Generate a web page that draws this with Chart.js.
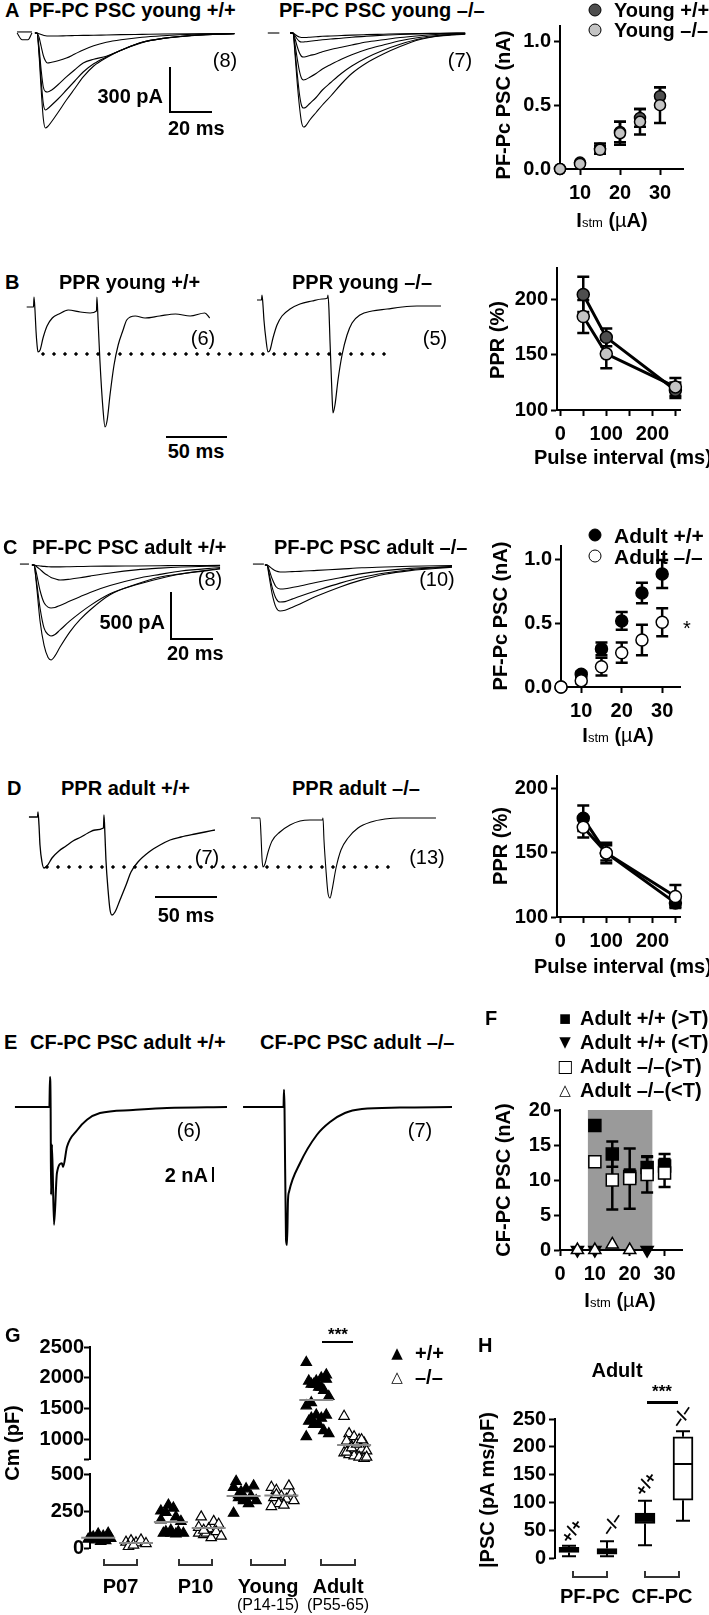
<!DOCTYPE html>
<html>
<head>
<meta charset="utf-8">
<script src="https://cdn.jsdelivr.net/npm/chart.js@4.4.1/dist/chart.umd.min.js"></script>
<style>
html, body { margin: 0; padding: 0; background: #fff; }
#fig { position: relative; width: 709px; height: 1615px; overflow: hidden; background: #fff;
       font-family: "Liberation Sans", Arial, Helvetica, sans-serif; font-weight: bold; font-size: 20px; color: #000; }
#fig canvas { position: absolute; }
.t { position: absolute; white-space: nowrap; line-height: 1; }
.ln { position: absolute; background: #000; }
.br { position: absolute; box-sizing: border-box; border: 2px solid #333; border-top: none; height: 7px; }
.dots { position: absolute; height: 4px;
        background: radial-gradient(circle at 2px 2px, #000 1.4px, transparent 1.9px) 0 0 / 11px 4px repeat-x; }
.gl { font-family: "DejaVu Sans", sans-serif; font-weight: normal; }
.circ { position: absolute; width: 11px; height: 11px; border-radius: 50%; border: 1.5px solid #000; transform: translate(-50%, -50%); }
.sub { font-weight: normal; font-size: 13px; }
</style>
</head>
<body>
<div id="fig"></div>
<script>
// ============================================
// DATOS: TRAZOS (ms, pA / nA)
// ============================================

// A  PF-PC PSC young
const tYoungWT = [-1, 0, 1, 2, 3, 4, 5, 7, 10, 14, 18, 22, 27, 33, 40, 50, 60, 75, 94];
const youngWT1 = [0, 0, -150, -380, -570, -633, -625, -590, -530, -447, -370, -293, -220, -165, -115, -62, -36, -15, -5];
const youngWT2 = [0, 0, -130, -320, -470, -513, -505, -480, -440, -380, -320, -260, -205, -160, -115, -62, -36, -15, -5];
const youngWT3 = [0, 0, -100, -250, -360, -390, -393, -380, -345, -293, -245, -200, -175, -155, -115, -64, -37, -16, -5];
const youngWT4 = [0, 0, -30, -90, -150, -185, -200, -195, -185, -167, -140, -113, -85, -62, -45, -28, -18, -8, -3];
const youngWT5 = [0, 0, -5, -10, -15, -18, -20, -20, -20, -18, -17, -16, -15, -13, -11, -9, -7, -5, -3];

const tYoungKO = [-1.4, 0, 1, 2, 3, 4, 5, 6, 8, 11, 14, 18, 23, 28, 35, 43, 51, 60, 70, 82];
const youngKO1 = [0, 0, -150, -330, -480, -590, -627, -620, -580, -530, -480, -420, -340, -270, -200, -140, -90, -45, -20, -8];
const youngKO2 = [0, 0, -120, -270, -400, -480, -500, -497, -470, -430, -380, -330, -270, -220, -165, -115, -75, -40, -18, -6];
const youngKO3 = [0, 0, -80, -170, -250, -300, -313, -310, -295, -270, -240, -210, -175, -145, -110, -80, -52, -30, -15, -5];
const youngKO4 = [0, 0, -40, -90, -130, -155, -160, -158, -150, -140, -125, -110, -95, -80, -60, -45, -30, -18, -8, -3];
const youngKO5 = [0, 0, -20, -40, -55, -60, -60, -58, -55, -50, -45, -40, -35, -28, -22, -15, -10, -6, -3, 0];
const youngKO6 = [0, 0, -10, -20, -27, -30, -30, -30, -28, -25, -22, -20, -17, -14, -11, -8, -5, -3, -2, 0];

// B  PPR young
const tPprYoungWT = [-6, -0.4, 0, 0.8, 1.6, 2.5, 3.3, 5, 7.4, 10.7, 15, 20.5, 28, 38, 46, 51.2, 51.6, 52.5, 54, 56.6, 58.2, 60, 62.3, 65.6, 69, 73, 76, 83, 91, 103, 116, 128, 140, 144];
const pprYoungWTtrace = [0, 0, 100, -30, -230, -380, -450, -430, -310, -190, -110, -70, -30, -50, -60, -40, 100, -130, -530, -1030, -1200, -1130, -880, -580, -380, -230, -130, -90, -110, -90, -70, -90, -60, -110];
const tPprYoungKO = [-4.1, -0.4, 0, 0.8, 1.6, 3.3, 4.9, 6.6, 9, 12.3, 16.4, 23, 31.1, 41, 49.2, 53.7, 54.1, 54.9, 55.7, 57.4, 58.2, 59.8, 62.3, 65.6, 69.7, 73.8, 80.3, 90.2, 102.5, 114.8, 127, 139.3, 146.7];
const pprYoungKOtrace = [0, 0, 50, -50, -200, -400, -520, -500, -380, -250, -160, -90, -40, -10, 10, 20, 50, -100, -400, -950, -1130, -1050, -800, -550, -350, -230, -150, -110, -90, -70, -60, -60, -60];

// C  PF-PC PSC adult
const tAdultWT = [-1, 0, 1, 2.9, 4.8, 6.7, 8.1, 10, 12.4, 17.1, 21.9, 26.7, 36.2, 48.6, 60, 70, 88.6];
const adultWT1 = [0, 0, -171, -600, -856, -985, -1010, -967, -873, -711, -582, -479, -317, -205, -128, -94, -43];
const adultWT2 = [0, 0, -144, -461, -672, -739, -755, -739, -691, -595, -509, -432, -307, -211, -144, -96, -38];
const adultWT3 = [0, 0, -73, -274, -402, -448, -457, -452, -430, -384, -338, -292, -219, -146, -100, -64, -27];
const adultWT4 = [0, 0, -14, -47, -85, -113, -132, -146, -160, -151, -136, -118, -85, -52, -33, -21, -9];
const adultWT5 = [0, 0, -5, -10, -15, -18, -20, -20, -20, -18, -16, -14, -12, -10, -8, -6, -4];

const tAdultKO = [-1, 0, 0.95, 2.4, 4.3, 6.2, 8.6, 11.9, 15.7, 23.8, 34.8, 45.2, 56.2, 68.1, 88.1];
const adultKO1 = [0, 0, -113, -301, -451, -489, -481, -451, -414, -331, -233, -158, -98, -60, -23];
const adultKO2 = [0, 0, -85, -232, -356, -394, -390, -363, -332, -271, -193, -131, -85, -50, -19];
const adultKO3 = [0, 0, -48, -143, -231, -255, -253, -239, -223, -183, -135, -92, -60, -36, -14];
const adultKO4 = [0, 0, -13, -39, -65, -74, -74, -71, -68, -57, -44, -30, -22, -13, -5];

// D  PPR adult
const tPprAdultWT = [-7.3, -0.4, 0, 0.8, 1.6, 3.2, 4.8, 7.3, 11.3, 16.9, 22.6, 28.2, 34.7, 40.3, 46, 52.8, 53.2, 54, 54.8, 56.5, 58.1, 59.7, 62.1, 66.1, 71, 75, 80.6, 89.5, 98.4, 106.5, 115.3, 126.6, 134.7, 142.7];
const pprAdultWTtrace = [0, 0, 50, -80, -280, -450, -510, -490, -410, -340, -290, -240, -200, -160, -130, -110, 20, -180, -430, -730, -930, -980, -950, -830, -680, -550, -450, -350, -280, -230, -200, -170, -150, -130];
const tPprAdultKO = [-7.3, -0.4, 0, 0.8, 1.6, 2.4, 4, 6.5, 9.7, 16.1, 24.2, 32.3, 40.3, 50.4, 50.8, 51.6, 53.2, 54.8, 56.5, 58.1, 61.3, 65.3, 71, 79, 89.5, 100.8, 112.9, 141.9];
const pprAdultKOtrace = [0, 0, 0, -170, -400, -490, -460, -340, -230, -140, -70, -30, -20, -20, 0, -220, -520, -750, -800, -720, -500, -320, -200, -100, -40, -10, 0, 0];

// E  CF-PC PSC adult (nA)
const tCfWT = [-16.7, -0.3, 0, 0.3, 0.5, 0.95, 1.9, 3.3, 5.7, 6.2, 8.1, 12.9, 17.6, 23.8, 39.5, 55.7, 84.3];
const cfWTtrace = [0, 0, 4, 0, -11.7, -5, -15.7, -8.8, -7.5, -8, -5.3, -3.1, -1.7, -0.8, -0.4, -0.13, 0];
const tCfKO = [-19.5, -0.24, 0, 0.24, 0.95, 1.43, 1.9, 2.4, 7.6, 15.7, 21.9, 29, 37.1, 55.2, 80];
const cfKOtrace = [0, 0, 2.3, 0, -17.7, -18.4, -12.4, -11.3, -7.5, -3.7, -2.0, -0.8, -0.27, -0.07, 0];

// ============================================
// DATOS: GRÁFICOS
// ============================================

const istm = [5, 10, 15, 20, 25, 30];
const pscYoungWT = [0, 0.05, 0.16, 0.29, 0.40, 0.57];
const pscYoungWTerr = [0, 0, 0.04, 0.08, 0.07, 0.07];
const pscYoungKO = [0, 0.04, 0.15, 0.28, 0.37, 0.50];
const pscYoungKOerr = [0, 0, 0.03, 0.09, 0.10, 0.14];

const pulseInterval = [50, 100, 250];
const pprYoungWT = [205, 166, 118];
const pprYoungWTerr = [16, 8, 7];
const pprYoungKO = [185, 151, 121];
const pprYoungKOerr = [15, 13, 8];

const pscAdultWT = [0, 0.10, 0.30, 0.52, 0.74, 0.89];
const pscAdultWTerr = [0, 0.02, 0.05, 0.07, 0.08, 0.11];
const pscAdultKO = [0, 0.05, 0.16, 0.27, 0.37, 0.51];
const pscAdultKOerr = [0, 0.02, 0.07, 0.08, 0.12, 0.11];

const pprAdultWT = [177, 150, 111];
const pprAdultWTerr = [10, 8, 3];
const pprAdultKO = [170, 150, 116];
const pprAdultKOerr = [8, 6, 9];

const cfIstm = [10, 15, 20, 25, 30];
const cfAboveWT = [17.8, 13.7, 10.5, 11.8, 12.0];
const cfAboveWTerr = [0, 1.8, 1.0, 1.5, 1.7];
const cfAboveKO = [12.6, 10.0, 10.2, 10.8, 11.0];
const cfAboveKOerr = [0, 4.2, 4.3, 2.6, 2.0];
const cfBelowWTx = [5, 10, 25];
const cfBelowWT = [0, 0, 0];
const cfBelowKOx = [5, 10, 15, 20];
const cfBelowKO = [0, 0, 0.8, 0];
const cfShadeRange = [8, 26.5];

const cmGroups = ['P07', 'P10', 'Young', 'Adult'];
const cmWT = [
    [60, 75, 95, 80, 100, 70, 55, 45, 50, 65],
    [250, 110, 100, 210, 180, 100, 290, 270, 110, 100, 190, 240, 120, 95],
    [410, 360, 330, 300, 420, 450, 380, 400, 350, 320, 235, 340, 320],
    [2250, 1900, 1950, 2000, 2050, 1950, 1900, 1850, 1800, 1700, 1550, 1600, 1400, 1350, 1400, 1300, 1250, 1250, 1150, 1100, 1050, 1350, 1900, 1850, 1980]
];
const cmKO = [
    [40, 50, 35, 55, 30, 10, 20],
    [100, 90, 130, 180, 160, 210, 100, 70, 110, 80, 140, 120],
    [410, 390, 350, 330, 370, 340, 300, 290, 420, 320, 280, 360],
    [1380, 1100, 1050, 1000, 950, 980, 900, 880, 850, 820, 790, 760, 740, 720, 700, 800, 870, 930, 1000, 720]
];
const cmWTmean = [70, 176, 351, 1645];
const cmKOmean = [33, 135, 355, 915];

const boxLabels = ['+/+', '–/–', '+/+', '–/–'];
const boxMin = [3, 3, 23, 67];
const boxQ1 = [10, 7, 62, 104];
const boxMed = [14, 11, 71, 169];
const boxQ3 = [19, 17, 81, 218];
const boxMax = [22, 30, 103, 228];

// ============================================
// CONFIGURACIÓN
// ============================================

const FONT = "'Liberation Sans', Arial, Helvetica, sans-serif";
Chart.defaults.font.family = FONT;
Chart.defaults.font.size = 20;
Chart.defaults.font.weight = 'bold';
Chart.defaults.color = '#000';

const fig = document.getElementById('fig');
const YW = 70, XH = 62, PAD = 14;

function mkCanvas(l, t, w, h) {
    const c = document.createElement('canvas');
    c.width = w; c.height = h;
    c.style.left = l + 'px'; c.style.top = t + 'px';
    c.style.width = w + 'px'; c.style.height = h + 'px';
    fig.appendChild(c);
    return c;
}

function txt(x, y, html, o = {}) {
    const d = document.createElement('div');
    d.className = 't';
    d.innerHTML = html;
    d.style.left = x + 'px';
    d.style.top = y + 'px';
    const ax = o.a === 'r' ? '-100%' : (o.a === 'c' ? '-50%' : '0');
    d.style.transform = `translate(${ax}, -50%)` + (o.rot ? ` rotate(${o.rot}deg)` : '');
    if (o.n) d.style.fontWeight = 'normal';
    if (o.s) d.style.fontSize = o.s + 'px';
    fig.appendChild(d);
}

function line(x, y, w, h) {
    const d = document.createElement('div');
    d.className = 'ln';
    Object.assign(d.style, { left: x + 'px', top: y + 'px', width: w + 'px', height: h + 'px' });
    fig.appendChild(d);
}

function bracket(x1, x2, yb) {
    const d = document.createElement('div');
    d.className = 'br';
    Object.assign(d.style, { left: x1 + 'px', top: (yb - 7) + 'px', width: (x2 - x1) + 'px' });
    fig.appendChild(d);
}

function dots(x1, x2, y) {
    const d = document.createElement('div');
    d.className = 'dots';
    Object.assign(d.style, { left: x1 + 'px', top: (y - 2) + 'px', width: (x2 - x1) + 'px' });
    fig.appendChild(d);
}

function circle(x, y, fill) {
    const d = document.createElement('div');
    d.className = 'circ';
    Object.assign(d.style, { left: x + 'px', top: y + 'px', background: fill });
    fig.appendChild(d);
}

const noUi = {
    responsive: false, animation: false, events: [],
    plugins: { legend: { display: false }, tooltip: { enabled: false }, title: { display: false } }
};

// ============================================
// TRAZOS
// ============================================

function traceChart(box, map, sets, lw) {
    const c = mkCanvas(box.l, box.t, box.w, box.h);
    new Chart(c, {
        type: 'line',
        data: {
            datasets: sets.map(s => ({
                data: s[0].map((t, i) => ({ x: t, y: s[1][i] })),
                borderColor: '#000', borderWidth: lw, pointRadius: 0,
                cubicInterpolationMode: 'monotone', fill: false, clip: false
            }))
        },
        options: {
            ...noUi,
            layout: { padding: 0 },
            scales: {
                x: { type: 'linear', display: false, min: (box.l - map.x0) / map.kx, max: (box.l + box.w - map.x0) / map.kx },
                y: { type: 'linear', display: false, min: (map.y0 - box.t - box.h) / map.ky, max: (map.y0 - box.t) / map.ky }
            }
        }
    });
}

traceChart({ l: 14, t: 22, w: 228, h: 115 }, { x0: 37, y0: 33, kx: 2.1, ky: 0.15 }, [
    [[-9.5, -2.4], [7, 7]], [[-9.5, -7.1, -4.3, -2.4], [0, -45, -45, 0]],
    [tYoungWT, youngWT5], [tYoungWT, youngWT4], [tYoungWT, youngWT3], [tYoungWT, youngWT2], [tYoungWT, youngWT1]
], 1.1);
traceChart({ l: 262, t: 22, w: 215, h: 115 }, { x0: 293, y0: 33, kx: 2.1, ky: 0.15 }, [
    [[-12, -6.5], [0, 0]],
    [tYoungKO, youngKO6], [tYoungKO, youngKO5], [tYoungKO, youngKO4], [tYoungKO, youngKO3], [tYoungKO, youngKO2], [tYoungKO, youngKO1]
], 1.1);
traceChart({ l: 20, t: 285, w: 200, h: 150 }, { x0: 34, y0: 307, kx: 1.22, ky: 0.1 }, [[tPprYoungWT, pprYoungWTtrace]], 1.2);
traceChart({ l: 250, t: 285, w: 200, h: 150 }, { x0: 262, y0: 300, kx: 1.22, ky: 0.1 }, [[tPprYoungKO, pprYoungKOtrace]], 1.2);
traceChart({ l: 14, t: 552, w: 215, h: 120 }, { x0: 34, y0: 565, kx: 2.1, ky: 0.094 }, [
    [[-6.7, -2.4], [10, 10]],
    [tAdultWT, adultWT5], [tAdultWT, adultWT4], [tAdultWT, adultWT3], [tAdultWT, adultWT2], [tAdultWT, adultWT1]
], 1.1);
traceChart({ l: 245, t: 552, w: 215, h: 75 }, { x0: 267, y0: 565, kx: 2.1, ky: 0.094 }, [
    [[-6.7, -1.5], [10, 10]],
    [tAdultKO, adultKO4], [tAdultKO, adultKO3], [tAdultKO, adultKO2], [tAdultKO, adultKO1]
], 1.1);
traceChart({ l: 20, t: 800, w: 205, h: 125 }, { x0: 38, y0: 817, kx: 1.24, ky: 0.1 }, [[tPprAdultWT, pprAdultWTtrace]], 1.3);
traceChart({ l: 245, t: 800, w: 200, h: 110 }, { x0: 260, y0: 818, kx: 1.24, ky: 0.1 }, [[tPprAdultKO, pprAdultKOtrace]], 1.1);
traceChart({ l: 10, t: 1065, w: 225, h: 170 }, { x0: 50, y0: 1107, kx: 2.1, ky: 7.5 }, [[tCfWT, cfWTtrace]], 2);
traceChart({ l: 238, t: 1065, w: 222, h: 190 }, { x0: 284, y0: 1107, kx: 2.1, ky: 7.5 }, [[tCfKO, cfKOtrace]], 2);

// ============================================
// PLUGINS
// ============================================

const errorBars = {
    id: 'errorBars',
    beforeDatasetsDraw(chart) {
        const ctx = chart.ctx, ys = chart.scales.y;
        chart.data.datasets.forEach((ds, i) => {
            if (!ds.errors) return;
            const meta = chart.getDatasetMeta(i);
            ctx.save();
            ctx.strokeStyle = '#000';
            ctx.lineWidth = 2.5;
            meta.data.forEach((pt, j) => {
                const e = ds.errors[j];
                if (!e) return;
                const v = ds.data[j].y;
                const y1 = ys.getPixelForValue(v + e), y2 = ys.getPixelForValue(v - e);
                ctx.beginPath();
                ctx.moveTo(pt.x, y1); ctx.lineTo(pt.x, y2);
                ctx.moveTo(pt.x - 6, y1); ctx.lineTo(pt.x + 6, y1);
                ctx.moveTo(pt.x - 6, y2); ctx.lineTo(pt.x + 6, y2);
                ctx.stroke();
            });
            ctx.restore();
        });
    }
};

const shade = {
    id: 'shade',
    beforeDraw(chart) {
        const { ctx, chartArea: a, scales: { x } } = chart;
        const x1 = x.getPixelForValue(cfShadeRange[0]), x2 = x.getPixelForValue(cfShadeRange[1]);
        ctx.save();
        ctx.fillStyle = '#9a9a9a';
        ctx.fillRect(x1, a.top, x2 - x1, a.bottom - a.top);
        ctx.restore();
    }
};

function axis(pos, min, max, ticks, fmt) {
    return {
        type: 'linear', position: pos, min, max, offset: false,
        afterBuildTicks: s => { s.ticks = ticks.map(v => ({ value: v })); },
        afterFit: s => { if (pos === 'left') s.width = YW; else s.height = XH; },
        border: { display: true, color: '#000', width: 2 },
        grid: { drawOnChartArea: false, drawTicks: true, tickLength: 6, tickWidth: 2, tickColor: '#000', color: '#000' },
        ticks: { autoSkip: false, maxRotation: 0, minRotation: 0, padding: pos === 'left' ? 3 : 6, color: '#000',
                 font: { size: 20, weight: 'bold' }, callback: v => fmt(v) }
    };
}

function frame(area, hasX) {
    const w = area.r - area.l + YW + PAD;
    const h = area.b - area.t + PAD + (hasX ? XH : PAD);
    return mkCanvas(area.l - YW, area.t - PAD, w, h);
}

function layoutPad(hasX) {
    return { padding: { left: 0, top: PAD, right: PAD, bottom: hasX ? 0 : PAD } };
}

function pts(xs, ys) { return xs.map((x, i) => ({ x, y: ys[i] })); }

function markers(xs, ys, o) {
    return {
        data: pts(xs, ys), showLine: !!o.line, borderColor: '#000', borderWidth: o.line ? 3 : 0,
        pointStyle: o.style || 'circle', pointRadius: o.r || 5.5, pointRotation: o.rot || 0,
        pointBackgroundColor: o.fill, pointBorderColor: '#000', pointBorderWidth: 1.5,
        errors: o.err, order: o.order, clip: false
    };
}

const fmt1 = v => v.toFixed(1);
const fmtInt = v => String(v);
const fmtHundreds = v => (v % 100 === 0 ? String(v) : '');

function scatterPanel(area, xr, yr, datasets, extra = []) {
    new Chart(frame(area, true), {
        type: 'scatter',
        data: { datasets },
        options: {
            ...noUi,
            layout: layoutPad(true),
            scales: {
                x: axis('bottom', xr[0], xr[1], xr[2], xr[3]),
                y: axis('left', yr[0], yr[1], yr[2], yr[3])
            }
        },
        plugins: [...extra, errorBars]
    });
}

// A
scatterPanel({ l: 560, r: 683, t: 25, b: 169 },
    [5, 35.75, [10, 20, 30], fmtInt], [0, 1.12, [0, 0.5, 1.0], fmt1], [
        markers(istm, pscYoungKO, { fill: '#c4c4c4', err: pscYoungKOerr, order: 1 }),
        markers(istm, pscYoungWT, { fill: '#4e4e4e', err: pscYoungWTerr, order: 2 })
    ]);

// B
scatterPanel({ l: 557, r: 680, t: 267, b: 410 },
    [-7, 260, [0, 50, 100, 150, 200, 250], fmtHundreds], [100, 229, [100, 150, 200], fmtInt], [
        markers(pulseInterval, pprYoungKO, { fill: '#c4c4c4', err: pprYoungKOerr, order: 1, line: true, r: 6 }),
        markers(pulseInterval, pprYoungWT, { fill: '#4e4e4e', err: pprYoungWTerr, order: 2, line: true, r: 6 })
    ]);

// C
scatterPanel({ l: 561, r: 680, t: 545, b: 687 },
    [5, 34.4, [10, 20, 30], fmtInt], [0, 1.11, [0, 0.5, 1.0], fmt1], [
        markers(istm, pscAdultKO, { fill: '#fff', err: pscAdultKOerr, order: 1, r: 6 }),
        markers(istm, pscAdultWT, { fill: '#000', err: pscAdultWTerr, order: 2, r: 6 })
    ]);

// D
scatterPanel({ l: 557, r: 680, t: 775, b: 917 },
    [-7, 260, [0, 50, 100, 150, 200, 250], fmtHundreds], [100, 210, [100, 150, 200], fmtInt], [
        markers(pulseInterval, pprAdultKO, { fill: '#fff', err: pprAdultKOerr, order: 1, line: true, r: 6 }),
        markers(pulseInterval, pprAdultWT, { fill: '#000', err: pprAdultWTerr, order: 2, line: true, r: 6 })
    ]);

// F
scatterPanel({ l: 560, r: 682, t: 1109, b: 1250 },
    [0, 35, [0, 10, 20, 30], fmtInt], [0, 20, [0, 5, 10, 15, 20], fmtInt], [
        markers(cfIstm, cfAboveKO, { fill: '#fff', err: cfAboveKOerr, order: 1, style: 'rect', r: 8.5 }),
        markers(cfIstm, cfAboveWT, { fill: '#000', err: cfAboveWTerr, order: 2, style: 'rect', r: 8.5 }),
        markers(cfBelowKOx, cfBelowKO, { fill: '#fff', order: 3, style: 'triangle', r: 7 }),
        markers(cfBelowWTx, cfBelowWT, { fill: '#000', order: 4, style: 'triangle', r: 7, rot: 180 })
    ], [shade]);

// G  (eje cortado: dos gráficos)
const G_SIDE = [-0.3, 0.22];
const G_PX = 72.7;
function cmPoints(groups, side, keep) {
    const out = [];
    groups.forEach((vals, g) => {
        vals.forEach((v, i) => {
            if (!keep(v)) return;
            const jitter = (((i % 5) - 2) * 5 + (Math.floor(i / 5) % 2 ? 2.5 : 0)) / G_PX;
            out.push({ x: g + 1 + side + jitter, y: v });
        });
    });
    return out;
}

const meanLines = {
    id: 'meanLines',
    afterDatasetsDraw(chart) {
        const { ctx, scales: { x, y } } = chart;
        ctx.save();
        ctx.strokeStyle = '#8a8a8a';
        ctx.lineWidth = 2;
        [[cmWTmean, G_SIDE[0]], [cmKOmean, G_SIDE[1]]].forEach(([means, side]) => {
            means.forEach((m, g) => {
                if (m < y.min || m > y.max) return;
                const cx = x.getPixelForValue(g + 1 + side), py = y.getPixelForValue(m);
                ctx.beginPath(); ctx.moveTo(cx - 17, py); ctx.lineTo(cx + 17, py); ctx.stroke();
            });
        });
        ctx.restore();
    }
};

function cmPanel(area, ymin, ymax, ticks) {
    const keep = v => v >= ymin - 20 && v <= ymax + 20;
    const yAxis = axis('left', ymin, ymax, ticks, v => (v === 690 ? '' : String(v)));
    yAxis.ticks.padding = 0;
    new Chart(frame(area, false), {
        type: 'scatter',
        data: {
            datasets: [
                { data: cmPoints(cmKO, G_SIDE[1], keep), pointStyle: 'triangle', pointRadius: 6, pointBackgroundColor: '#fff',
                  pointBorderColor: '#000', pointBorderWidth: 1.2, clip: false, order: 1 },
                { data: cmPoints(cmWT, G_SIDE[0], keep), pointStyle: 'triangle', pointRadius: 6, pointBackgroundColor: '#000',
                  pointBorderColor: '#000', pointBorderWidth: 1.2, clip: false, order: 2 }
            ]
        },
        options: {
            ...noUi,
            layout: layoutPad(false),
            scales: {
                x: { type: 'linear', display: false, offset: false, min: 1 - (120 - area.l) / G_PX, max: 1 + (area.r - 120) / G_PX },
                y: yAxis
            }
        },
        plugins: [meanLines]
    });
}
cmPanel({ l: 90, r: 380, t: 1347, b: 1459 }, 690, 2500, [690, 1000, 1500, 2000, 2500]);
cmPanel({ l: 90, r: 380, t: 1474, b: 1548 }, 0, 500, [0, 250, 500]);

// H  (cajas)
const whiskers = {
    id: 'whiskers',
    afterDatasetsDraw(chart) {
        const { ctx, scales: { x, y } } = chart;
        ctx.save();
        ctx.strokeStyle = '#000';
        ctx.lineWidth = 2;
        boxMin.forEach((mn, i) => {
            const cx = x.getPixelForValue(i + 1);
            const p = v => y.getPixelForValue(v);
            ctx.beginPath();
            ctx.moveTo(cx, p(mn)); ctx.lineTo(cx, p(boxQ1[i]));
            ctx.moveTo(cx, p(boxQ3[i])); ctx.lineTo(cx, p(boxMax[i]));
            ctx.moveTo(cx - 7, p(mn)); ctx.lineTo(cx + 7, p(mn));
            ctx.moveTo(cx - 7, p(boxMax[i])); ctx.lineTo(cx + 7, p(boxMax[i]));
            ctx.moveTo(cx - 10, p(boxMed[i])); ctx.lineTo(cx + 10, p(boxMed[i]));
            ctx.stroke();
        });
        ctx.restore();
    }
};

(function () {
    const area = { l: 555, r: 700, t: 1418, b: 1559 };
    new Chart(frame(area, false), {
        type: 'bar',
        data: {
            datasets: [{
                data: boxQ1.map((q, i) => ({ x: i + 1, y: [q, boxQ3[i]] })),
                backgroundColor: ['#000', '#000', '#000', '#fff'],
                borderColor: '#000', borderWidth: 2, borderSkipped: false, barThickness: 20
            }]
        },
        options: {
            ...noUi,
            layout: layoutPad(false),
            scales: {
                x: { type: 'linear', display: false, offset: false, min: 1 - 14 / 38, max: 1 + (area.r - 569) / 38 },
                y: axis('left', 0, 250, [0, 50, 100, 150, 200, 250], fmtInt)
            }
        },
        plugins: [whiskers]
    });
})();

// ============================================
// TEXTOS Y ANOTACIONES
// ============================================

// A
txt(5, 10, 'A');
txt(29, 10, 'PF-PC PSC young +/+');
txt(279, 10, 'PF-PC PSC young –/–');
txt(225, 60, '(8)', { a: 'c', n: 1 });
txt(460, 60, '(7)', { a: 'c', n: 1 });
line(169, 67, 2, 46); line(169, 111, 43, 2);
txt(163, 96, '300 pA', { a: 'r' });
txt(168, 128, '20 ms');
circle(595, 10, '#4e4e4e'); txt(614, 10, 'Young +/+');
circle(595, 30, '#c4c4c4'); txt(614, 30, 'Young –/–');
txt(503, 105, 'PF-Pc PSC (nA)', { a: 'c', rot: -90 });
const istmLabel = 'I<span class="sub">stm</span> (<span style="font-weight:normal">µ</span>A)';
txt(612, 220, istmLabel, { a: 'c' });

// B
txt(5, 282, 'B');
txt(59, 282, 'PPR young +/+');
txt(292, 282, 'PPR young –/–');
dots(41, 391, 354);
txt(203, 338, '(6)', { a: 'c', n: 1 });
txt(435, 338, '(5)', { a: 'c', n: 1 });
line(166, 436, 61, 2);
txt(196, 451, '50 ms', { a: 'c' });
txt(497, 340, 'PPR (%)', { a: 'c', rot: -90 });
txt(534, 457, 'Pulse interval (ms)');

// C
txt(3, 547, 'C');
txt(32, 547, 'PF-PC PSC adult +/+');
txt(274, 547, 'PF-PC PSC adult –/–');
txt(210, 579, '(8)', { a: 'c', n: 1 });
txt(437, 579, '(10)', { a: 'c', n: 1 });
line(170, 592, 2, 48); line(170, 638, 43, 2);
txt(165, 622, '500 pA', { a: 'r' });
txt(167, 653, '20 ms');
circle(595, 535, '#000'); txt(614, 535, 'Adult +/+', { s: 21 });
circle(595, 556, '#fff'); txt(614, 556, 'Adult –/–', { s: 21 });
txt(500, 616, 'PF-Pc PSC (nA)', { a: 'c', rot: -90 });
txt(618, 735, istmLabel, { a: 'c' });
txt(687, 628, '*', { a: 'c', n: 1 });

// D
txt(7, 788, 'D');
txt(61, 788, 'PPR adult +/+');
txt(292, 788, 'PPR adult –/–');
dots(45, 391, 867);
txt(207, 857, '(7)', { a: 'c', n: 1 });
txt(427, 857, '(13)', { a: 'c', n: 1 });
line(155, 896, 62, 2);
txt(186, 915, '50 ms', { a: 'c' });
txt(500, 846, 'PPR (%)', { a: 'c', rot: -90 });
txt(534, 966, 'Pulse interval (ms)');

// E
txt(4, 1042, 'E');
txt(30, 1042, 'CF-PC PSC adult +/+');
txt(260, 1042, 'CF-PC PSC adult –/–');
txt(189, 1130, '(6)', { a: 'c', n: 1 });
txt(420, 1130, '(7)', { a: 'c', n: 1 });
txt(208, 1175, '2 nA', { a: 'r' });
line(212, 1167, 2, 15);

// F
txt(485, 1018, 'F');
txt(565, 1018, '■', { a: 'c' }); txt(580, 1018, 'Adult +/+ (&gt;T)');
txt(565, 1042, '<span class="gl">▼</span>', { a: 'c', s: 15 }); txt(580, 1042, 'Adult +/+ (&lt;T)');
txt(565, 1066, '<span class="gl">□</span>', { a: 'c', s: 17 }); txt(580, 1066, 'Adult –/–(&gt;T)');
txt(565, 1090, '<span class="gl">△</span>', { a: 'c', s: 15 }); txt(580, 1090, 'Adult –/–(&lt;T)');
txt(503, 1180, 'CF-PC PSC (nA)', { a: 'c', rot: -90 });
txt(620, 1300, istmLabel, { a: 'c' });

// G
txt(5, 1335, 'G');
txt(12, 1443, 'Cm (pF)', { a: 'c', rot: -90 });
txt(338, 1334, '***', { a: 'c', s: 17 });
line(322, 1341, 31, 2);
txt(397, 1353, '<span class="gl">▲</span>', { a: 'c', s: 15 }); txt(415, 1353, '+/+');
txt(397, 1377, '<span class="gl">△</span>', { a: 'c', s: 15 }); txt(415, 1377, '–/–');
[[103, 138], [178, 213], [250, 286], [320, 356]].forEach(([a, b], i) => {
    bracket(a, b, 1566);
    txt((a + b) / 2, 1586, cmGroups[i], { a: 'c' });
});
txt(268, 1605, '(P14-15)', { a: 'c', n: 1, s: 16 });
txt(338, 1605, '(P55-65)', { a: 'c', n: 1, s: 16 });

// H
txt(478, 1345, 'H');
txt(617, 1370, 'Adult', { a: 'c' });
txt(662, 1391, '***', { a: 'c', s: 17 });
line(647, 1401, 31, 3);
txt(487, 1490, '|PSC (pA ms/pF)', { a: 'c', rot: -90 });
[[572, 1531], [612, 1524], [646, 1484], [682, 1416]].forEach(([x, y], i) => {
    txt(x, y, boxLabels[i], { a: 'c', rot: -55, s: 17 });
});
bracket(572, 608, 1578);
bracket(644, 680, 1578);
txt(590, 1596, 'PF-PC', { a: 'c' });
txt(662, 1596, 'CF-PC', { a: 'c' });
</script>
</body>
</html>
